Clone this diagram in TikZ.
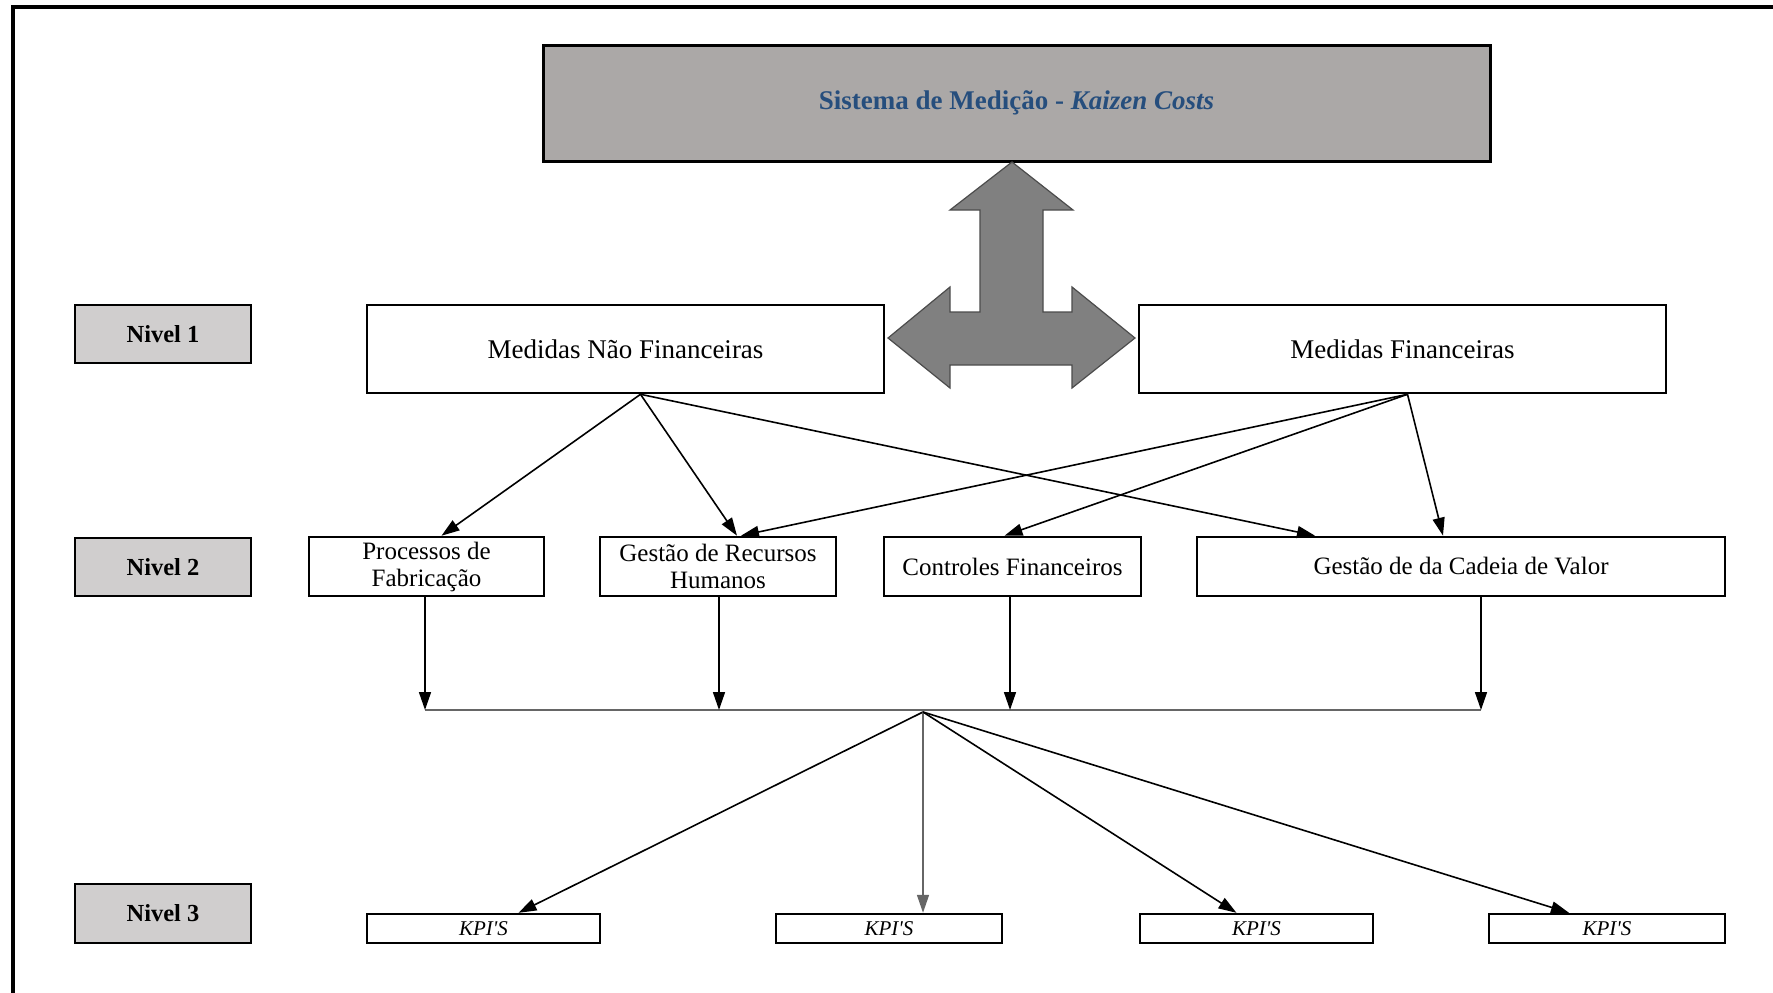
\documentclass[tikz,border=0pt]{standalone}
\usepackage{fontspec}
\setmainfont{Liberation Serif}
\newfontfamily\kpifont{Liberation Serif}[Ligatures=TeXOff]
\usetikzlibrary{arrows.meta,calc}
\definecolor{topfill}{RGB}{171,168,167}
\definecolor{nivfill}{RGB}{208,206,206}
\definecolor{titleblue}{RGB}{38,78,125}
\definecolor{arrowgray}{RGB}{128,128,128}
\tikzset{
  box/.style={draw=black, line width=2.6pt, fill=white, inner sep=0pt, align=center,
    font=\fontsize{25}{27}\selectfont},
  bigbox/.style={box, font=\fontsize{27}{30}\selectfont},
  nivbox/.style={box, fill=nivfill, font=\fontsize{24.5}{27}\selectfont\bfseries},
  kpibox/.style={box, line width=2.4pt, font=\kpifont\fontsize{21}{24}\selectfont\itshape},
  conn/.style={draw=black, line width=1.6pt, -{Triangle[length=18pt,width=12pt]}},
  busline/.style={draw=black!60, line width=1.6pt},
}
\begin{document}
\begin{tikzpicture}[x=1pt,y=-1pt]
\useasboundingbox (0,0) rectangle (1773,993);
% outer frame (top and left edges visible)
\draw[line width=4pt] (13,993) -- (13,7) -- (1773,7);

% top box
\node[box, fill=topfill, line width=3pt, minimum width=947pt, minimum height=116pt,
  font=\fontsize{27}{30}\selectfont\bfseries\color{titleblue}] (top) at (1016.5,103)
  {Sistema de Medição - \textit{Kaizen Costs}};

% level labels
\node[nivbox, minimum width=176pt, minimum height=58pt] (n1) at (163,334) {Nivel 1};
\node[nivbox, minimum width=176pt, minimum height=58pt] (n2) at (163,567) {Nivel 2};
\node[nivbox, minimum width=176pt, minimum height=59pt] (n3) at (163,913.5) {Nivel 3};

% level 1
\node[bigbox, minimum width=517pt, minimum height=88pt] (mnf) at (625.5,349) {Medidas Não Financeiras};
\node[bigbox, minimum width=527pt, minimum height=88pt] (mf) at (1402.5,349) {Medidas Financeiras};

% three-way arrow
\draw[fill=arrowgray, draw=black!70, line width=1.2pt]
  (1012,162) -- (1073,210) -- (1043,210) -- (1043,312) -- (1072,312) -- (1072,287)
  -- (1135,338) -- (1072,388) -- (1072,365) -- (950,365) -- (950,388) -- (888,338)
  -- (950,287) -- (950,312) -- (980,312) -- (980,210) -- (950,210) -- cycle;

% level 2
\node[box, minimum width=235pt, minimum height=59pt] (pf) at (426.5,566.5) {Processos de\\Fabricação};
\node[box, minimum width=236pt, minimum height=59pt] (rh) at (718,566.5) {Gestão de Recursos\\Humanos};
\node[box, minimum width=257pt, minimum height=59pt] (cf) at (1012.5,566.5) {Controles Financeiros};
\node[box, minimum width=528pt, minimum height=59pt] (cv) at (1461,566.5) {Gestão de da Cadeia de Valor};

% level 3
\node[kpibox, minimum width=233pt, minimum height=29pt] (k1) at (483.5,928.5) {KPI'S};
\node[kpibox, minimum width=226pt, minimum height=29pt] (k2) at (889,928.5) {KPI'S};
\node[kpibox, minimum width=233pt, minimum height=29pt] (k3) at (1256.5,928.5) {KPI'S};
\node[kpibox, minimum width=236pt, minimum height=29pt] (k4) at (1607,928.5) {KPI'S};

% connectors level 1 -> level 2
\coordinate (mnfo) at ($(mnf.south)+(15,0)$);
\coordinate (mfo) at ($(mf.south)+(5,0)$);
\draw[conn] (mnfo) -- ($(pf.north)+(15,0)$);
\draw[conn] (mnfo) -- ($(rh.north)+(19,0)$);
\draw[conn] (mnfo) -- ($(cv.north)+(-146,0)$);
\draw[conn] (mfo) -- ($(rh.north)+(23,0)$);
\draw[conn] (mfo) -- ($(cf.north)+(-8,0)$);
\draw[conn] (mfo) -- ($(cv.north)+(-18,0)$);

% level 2 -> bus
\coordinate (busL) at (425,710);
\coordinate (busR) at (1481,710);
\coordinate (hub) at (923,712);
\coordinate (pfb) at ($(pf.south)+(-1.5,0)$);
\coordinate (rhb) at ($(rh.south)+(1,0)$);
\coordinate (cfb) at ($(cf.south)+(-2.5,0)$);
\coordinate (cvb) at ($(cv.south)+(20,0)$);
\draw[busline] (busL) -- (busR);
\draw[conn] (pfb) -- (pfb |- busL);
\draw[conn] (rhb) -- (rhb |- busL);
\draw[conn] (cfb) -- (cfb |- busL);
\draw[conn] (cvb) -- (cvb |- busL);

% hub -> KPIs
\draw[conn] (hub) -- ($(k1.north)+(35,0)$);
\draw[conn, draw=black!60] (hub) -- ($(k2.north)+(34,0)$);
\draw[conn] (hub) -- ($(k3.north)+(-20,0)$);
\draw[conn] (hub) -- ($(k4.north)+(-38,0)$);
\end{tikzpicture}
\end{document}
